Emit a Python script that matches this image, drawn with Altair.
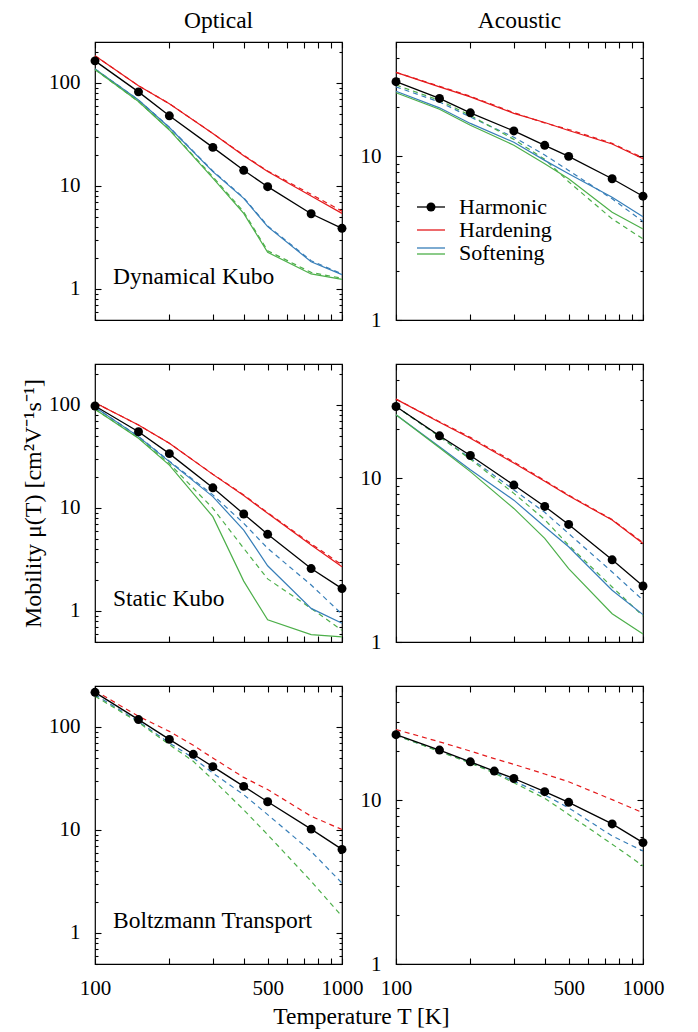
import altair as alt
import pandas as pd

FONT = "Liberation Serif"
RED, BLUE, GREEN, BLACK = "#e41a1c", "#377eb8", "#4daf4a", "#000000"

# ---------------- data ----------------
T_KUBO = [100, 150, 200, 300, 400, 500, 750, 1000]
T_BTE = [100, 150, 200, 250, 300, 400, 500, 750, 1000]

# Dynamical Kubo - Optical
DK_OPT_HARM = [164, 82, 48, 23.7, 14.2, 9.85, 5.38, 3.88]
DK_OPT_HARD = [184, 94, 63, 32.4, 19.7, 13.8, 8.0, 5.42]
DK_OPT_HARD_D = [184, 94, 63, 32.4, 19.9, 14.0, 8.3, 5.7]
DK_OPT_SOFTB = [137, 68.4, 37, 13.8, 7.58, 4.03, 1.84, 1.38]
DK_OPT_SOFTB_D = [137, 68.4, 37.3, 14.0, 7.7, 4.1, 1.88, 1.40]
DK_OPT_SOFTG = [135, 66, 35, 11.9, 5.42, 2.27, 1.40, 1.24]
DK_OPT_SOFTG_D = [135, 66, 35.3, 12.3, 5.6, 2.35, 1.45, 1.27]

# Dynamical Kubo - Acoustic
DK_AC_HARM = [28.6, 22.6, 18.45, 14.3, 11.68, 10.0, 7.30, 5.71]
DK_AC_HARD = [32.6, 26.6, 23.1, 18.3, 16.1, 14.4, 11.9, 9.67]
DK_AC_HARD_D = [32.6, 26.8, 23.3, 18.5, 16.0, 14.6, 12.0, 9.8]
DK_AC_SOFTB = [25.0, 19.8, 15.9, 12.2, 9.45, 7.83, 5.63, 4.28]
DK_AC_SOFTB_D = [26.6, 21.5, 17.4, 13.1, 10.2, 8.2, 5.5, 4.0]
DK_AC_SOFTG = [24.5, 19.4, 15.5, 11.7, 9.0, 7.3, 4.55, 3.6]
DK_AC_SOFTG_D = [27.3, 22.0, 17.8, 12.7, 9.6, 7.0, 4.15, 3.13]

# Static Kubo - Optical
SK_OPT_HARM = [97.8, 55, 33.7, 15.7, 8.75, 5.55, 2.58, 1.65]
SK_OPT_HARD = [105, 64, 42.5, 21.2, 13.2, 8.87, 4.37, 2.69]
SK_OPT_HARD_D = [105, 64, 42.5, 21.3, 13.4, 9.0, 4.5, 2.8]
SK_OPT_SOFTB = [95, 49.3, 28.2, 12.9, 6.1, 2.75, 1.06, 0.76]
SK_OPT_SOFTB_D = [95, 49.5, 28.5, 13.4, 7.1, 4.06, 1.79, 0.93]
SK_OPT_SOFTG = [90.8, 47.5, 26.1, 8.24, 1.95, 0.82, 0.59, 0.56]
SK_OPT_SOFTG_D = [91, 48, 27, 9.93, 4.06, 2.05, 1.06, 0.65]

# Static Kubo - Acoustic
SK_AC_HARM = [27.5, 18.2, 13.8, 9.1, 6.74, 5.23, 3.18, 2.2]
SK_AC_HARD = [30.5, 22.0, 17.6, 12.4, 9.6, 7.83, 5.56, 4.0]
SK_AC_HARD_D = [30.5, 22.2, 17.8, 12.6, 9.7, 7.9, 5.6, 4.05]
SK_AC_SOFTB = [24.5, 15.6, 11.3, 7.36, 5.06, 3.82, 2.07, 1.47]
SK_AC_SOFTB_D = [27.5, 18.0, 13.3, 8.5, 6.2, 4.6, 2.68, 1.8]
SK_AC_SOFTG = [24.5, 15.4, 11.0, 6.55, 4.3, 2.81, 1.49, 1.12]
SK_AC_SOFTG_D = [27.5, 18.0, 13.1, 8.1, 5.6, 3.9, 2.17, 1.44]

# Boltzmann Transport - Optical
BT_OPT_HARM = [217, 118, 75.8, 54.3, 41.2, 26.5, 18.8, 10.2, 6.48]
BT_OPT_HARD_D = [225, 127, 90.7, 66.4, 50, 32.4, 24.7, 13.6, 10.1]
BT_OPT_SOFTB_D = [206, 113, 70, 50, 35.7, 22, 14.1, 6.2, 3.05]
BT_OPT_SOFTG_D = [199, 111, 67.4, 46.4, 30.8, 15.7, 9.0, 3.18, 1.45]

# Boltzmann Transport - Acoustic
BT_AC_HARM = [25.2, 20.3, 17.2, 15.1, 13.6, 11.3, 9.73, 7.18, 5.52]
BT_AC_HARD_D = [27.1, 22.8, 20.0, 18.0, 16.6, 14.5, 13.0, 10.1, 8.4]
BT_AC_SOFTB_D = [25.0, 20.0, 17.0, 14.9, 13.1, 10.8, 9.0, 6.06, 4.91]
BT_AC_SOFTG_D = [25.0, 19.9, 16.9, 14.7, 12.8, 10.3, 8.2, 5.4, 3.98]

# axes / labels
X_TICKS = [100, 200, 300, 400, 500, 600, 700, 800, 900, 1000]
X_LABELS = [100, 500, 1000]
Y_DOM_OPT = [0.5, 250]
Y_DOM_AC = [1, 50]
Y_MAJOR_OPT = [1, 10, 100]
Y_MINOR_OPT = [0.5, 0.6, 0.7, 0.8, 0.9, 2, 3, 4, 5, 6, 7, 8, 9,
               20, 30, 40, 50, 60, 70, 80, 90, 200]
Y_MAJOR_AC = [1, 10]
Y_MINOR_AC = [2, 3, 4, 5, 6, 7, 8, 9, 20, 30, 40]
COL_TITLES = ["Optical", "Acoustic"]
ROW_LABELS = ["Dynamical Kubo", "Static Kubo", "Boltzmann Transport"]
LEGEND_LABELS = ["Harmonic", "Hardening", "Softening"]
Y_TITLE = "Mobility μ(T) [cm²V⁻¹s⁻¹]"
X_TITLE = "Temperature T [K]"

W, H = 247, 278


def sdf(T, vals):
    return pd.DataFrame({"T": T, "mu": vals})


def make_axes(ymaj, ymin, bottom_labels, ytitle, xtitle):
    xb_kw = dict(orient="bottom", values=X_TICKS, tickSize=6, offset=-6,
                 domain=False, grid=False, format="d", labelFlush=False,
                 labelOverlap=False, labelPadding=13, labels=bottom_labels,
                 labelFont=FONT, labelFontSize=21, labelColor=BLACK)
    if bottom_labels:
        xb_kw["labelExpr"] = ("indexof([" + ",".join(str(v) for v in X_LABELS)
                              + "], datum.value) >= 0 ? datum.label : ''")
    if xtitle:
        xb_kw.update(title=xtitle, titleX=266, titlePadding=6, titleFont=FONT,
                     titleFontSize=23.5, titleFontWeight="normal", titleColor=BLACK)
    else:
        xb_kw["title"] = None
    xb = alt.Axis(**xb_kw)
    xt = alt.Axis(orient="top", values=X_TICKS, tickSize=6, offset=-6,
                  domain=False, grid=False, labels=False, title=None)
    yl_kw = dict(orient="left", values=ymaj, tickSize=6, offset=-6,
                 domain=False, grid=False, format="d", labelPadding=15,
                 labelOverlap=False, labelFlush=False,
                 labelFont=FONT, labelFontSize=21, labelColor=BLACK)
    if ytitle:
        yl_kw.update(title=ytitle, titlePadding=3, titleFont=FONT,
                     titleFontSize=24, titleFontWeight="normal", titleColor=BLACK)
    else:
        yl_kw["title"] = None
    yl = alt.Axis(**yl_kw)
    ylm = alt.Axis(orient="left", values=ymin, tickSize=3, offset=-3,
                   domain=False, grid=False, labels=False, title=None)
    yr = alt.Axis(orient="right", values=ymaj, tickSize=6, offset=-6,
                  domain=False, grid=False, labels=False, title=None)
    yrm = alt.Axis(orient="right", values=ymin, tickSize=3, offset=-3,
                   domain=False, grid=False, labels=False, title=None)
    return [(xb, yl), (xt, ylm), (None, yr), (None, yrm)]


def panel(T, solid, dashed, harm, ydom, ymaj, ymin, bottom_labels=False,
          ytitle=None, xtitle=None, label=None, title=None, legend=False):
    xs = alt.Scale(type="log", domain=[100, 1000])
    ys = alt.Scale(type="log", domain=ydom)
    specs = []
    for vals, col in dashed:
        specs.append((sdf(T, vals), "line", dict(color=col, strokeWidth=1.2, strokeDash=[5, 4])))
    for vals, col in solid:
        specs.append((sdf(T, vals), "line", dict(color=col, strokeWidth=1.2)))
    specs.append((sdf(T, harm), "line", dict(color=BLACK, strokeWidth=1.3)))
    specs.append((sdf(T, harm), "point", dict(color=BLACK, filled=True, size=80, opacity=1)))
    axes = make_axes(ymaj, ymin, bottom_labels, ytitle, xtitle)
    layers = []
    for i, (df, kind, kw) in enumerate(specs):
        xa, ya = axes[i] if i < len(axes) else (None, None)
        base = alt.Chart(df)
        m = base.mark_line(**kw) if kind == "line" else base.mark_point(**kw)
        layers.append(m.encode(x=alt.X("T:Q", scale=xs, axis=xa),
                               y=alt.Y("mu:Q", scale=ys, axis=ya)))
    if label:
        layers.append(alt.Chart(pd.DataFrame({"t": [label]})).mark_text(
            font=FONT, fontSize=23.5, align="left", baseline="middle", color=BLACK
        ).encode(text="t:N", x=alt.value(18), y=alt.value(235)))
    if legend:
        ly = [165, 188, 211]
        for lab, yy in zip(LEGEND_LABELS, ly):
            layers.append(alt.Chart(pd.DataFrame({"t": [lab]})).mark_text(
                font=FONT, fontSize=22, align="left", baseline="middle", color=BLACK
            ).encode(text="t:N", x=alt.value(63), y=alt.value(yy)))
        for col, yy in [(BLACK, 165), (RED, 188), (BLUE, 206), (GREEN, 212)]:
            layers.append(alt.Chart(pd.DataFrame({"c": [col]})).mark_rule(
                color=col, strokeWidth=1.3).encode(
                x=alt.value(21), x2=alt.value(49), y=alt.value(yy)))
        layers.append(alt.Chart(pd.DataFrame({"t": [LEGEND_LABELS[0]]})).mark_point(
            color=BLACK, filled=True, size=80, opacity=1).encode(
            x=alt.value(35), y=alt.value(165)))
    ch = alt.layer(*layers).resolve_axis(x="independent", y="independent")
    props = dict(width=W, height=H)
    if title:
        props["title"] = alt.TitleParams(title, font=FONT, fontSize=23.5, fontWeight="normal",
                                         anchor="middle", frame="group", offset=9, color=BLACK)
    return ch.properties(**props)


p1 = panel(T_KUBO,
           [(DK_OPT_HARD, RED), (DK_OPT_SOFTB, BLUE), (DK_OPT_SOFTG, GREEN)],
           [(DK_OPT_HARD_D, RED), (DK_OPT_SOFTB_D, BLUE), (DK_OPT_SOFTG_D, GREEN)],
           DK_OPT_HARM, Y_DOM_OPT, Y_MAJOR_OPT, Y_MINOR_OPT,
           label=ROW_LABELS[0], title=COL_TITLES[0])
p2 = panel(T_KUBO,
           [(DK_AC_HARD, RED), (DK_AC_SOFTB, BLUE), (DK_AC_SOFTG, GREEN)],
           [(DK_AC_HARD_D, RED), (DK_AC_SOFTB_D, BLUE), (DK_AC_SOFTG_D, GREEN)],
           DK_AC_HARM, Y_DOM_AC, Y_MAJOR_AC, Y_MINOR_AC,
           title=COL_TITLES[1], legend=True)
p3 = panel(T_KUBO,
           [(SK_OPT_HARD, RED), (SK_OPT_SOFTB, BLUE), (SK_OPT_SOFTG, GREEN)],
           [(SK_OPT_HARD_D, RED), (SK_OPT_SOFTB_D, BLUE), (SK_OPT_SOFTG_D, GREEN)],
           SK_OPT_HARM, Y_DOM_OPT, Y_MAJOR_OPT, Y_MINOR_OPT,
           label=ROW_LABELS[1], ytitle=Y_TITLE)
p4 = panel(T_KUBO,
           [(SK_AC_HARD, RED), (SK_AC_SOFTB, BLUE), (SK_AC_SOFTG, GREEN)],
           [(SK_AC_HARD_D, RED), (SK_AC_SOFTB_D, BLUE), (SK_AC_SOFTG_D, GREEN)],
           SK_AC_HARM, Y_DOM_AC, Y_MAJOR_AC, Y_MINOR_AC)
p5 = panel(T_BTE, [],
           [(BT_OPT_HARD_D, RED), (BT_OPT_SOFTB_D, BLUE), (BT_OPT_SOFTG_D, GREEN)],
           BT_OPT_HARM, Y_DOM_OPT, Y_MAJOR_OPT, Y_MINOR_OPT,
           bottom_labels=True, label=ROW_LABELS[2], xtitle=X_TITLE)
p6 = panel(T_BTE, [],
           [(BT_AC_HARD_D, RED), (BT_AC_SOFTB_D, BLUE), (BT_AC_SOFTG_D, GREEN)],
           BT_AC_HARM, Y_DOM_AC, Y_MAJOR_AC, Y_MINOR_AC, bottom_labels=True)

chart = alt.concat(p1, p2, p3, p4, p5, p6, columns=2,
                   spacing={"row": 44, "column": 54}, bounds="flush").properties(
    padding={"left": 12, "top": 0, "right": 5, "bottom": 5},
    background="white"
).configure_view(stroke=BLACK, strokeWidth=1.2).configure_axis(
    labelFont=FONT, labelFontSize=21, labelColor=BLACK, tickColor=BLACK, tickWidth=1.1,
    titleFont=FONT, titleFontSize=21, titleFontWeight="normal", titleColor=BLACK
)

chart.save("out.html", embed_options={"renderer": "svg", "actions": False})
